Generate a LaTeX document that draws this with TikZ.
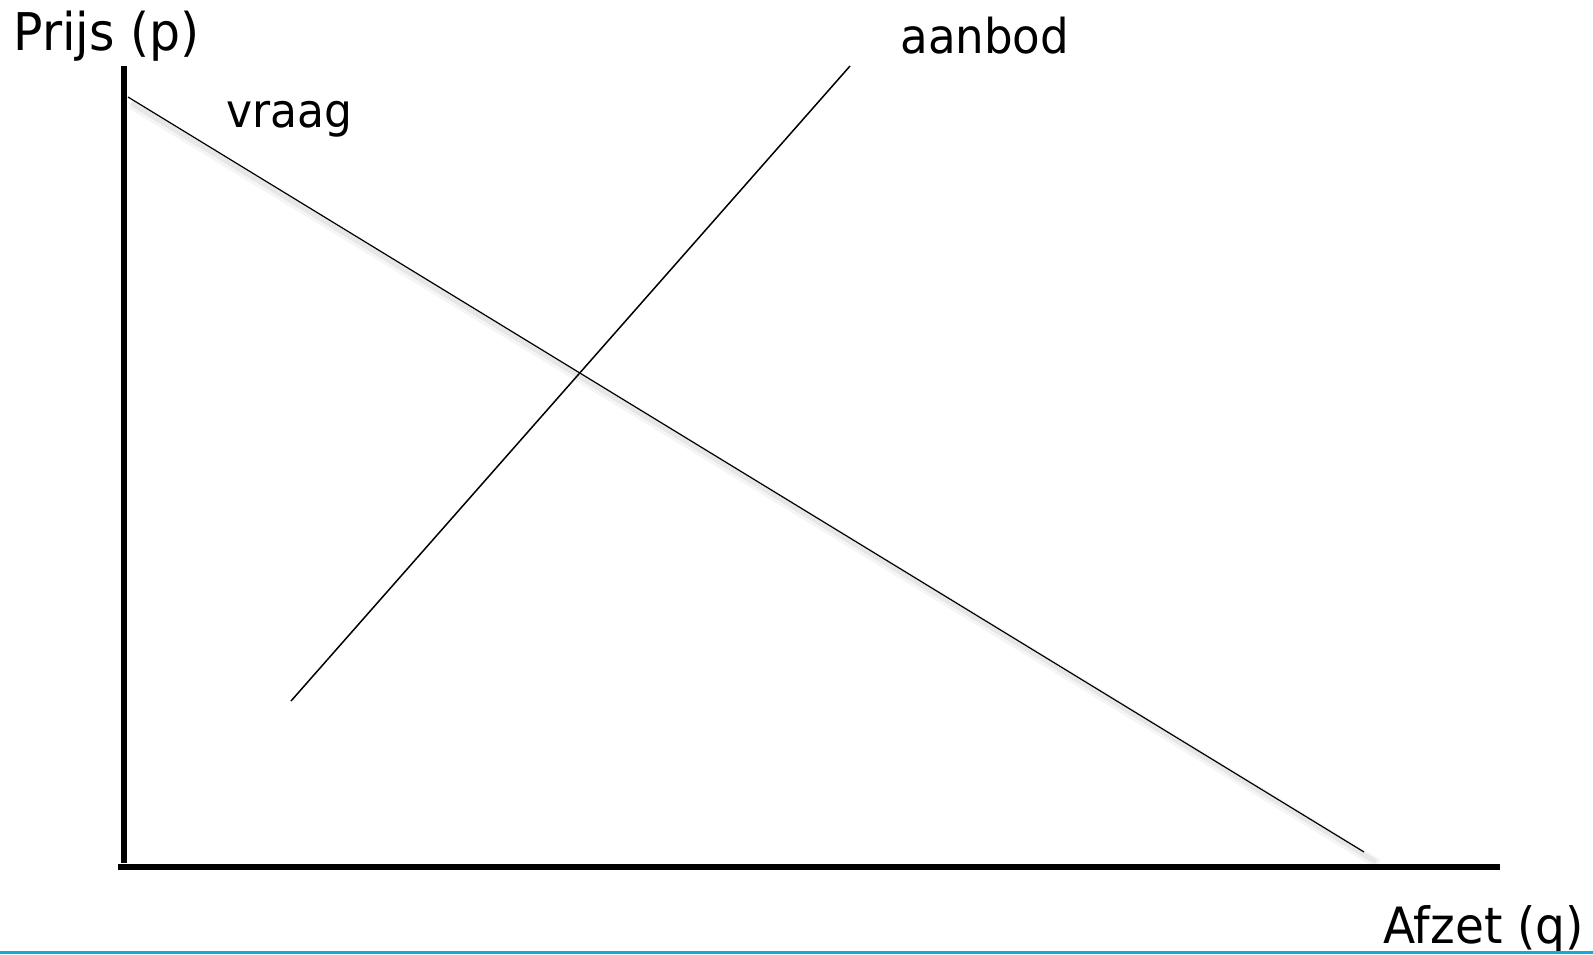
\documentclass[tikz,border=0pt]{standalone}
\usepackage{fontspec}
\setmainfont{DejaVu Sans}
\definecolor{barblue}{RGB}{20,170,220}
\begin{document}
\begin{tikzpicture}[x=0.5pt,y=-0.5pt,
  lbl/.style={anchor=base west,inner sep=0pt,text=black,xscale=0.94},
  axisline/.style={line width=3pt,line cap=butt},
  curve/.style={line width=0.6pt},
  shadowline/.style={line width=2.5pt,draw=black,opacity=0.06}]
\useasboundingbox (0,0) rectangle (1593,954);
% coordinates
\coordinate (ytop) at (124,66);
\coordinate (origin) at (124,867);
\coordinate (xend) at (1500,867);
\coordinate (d1) at (128,97);
\coordinate (d2) at (1364,852);
\coordinate (s1) at (291,701);
\coordinate (s2) at (850,66);
% shadow of demand line
\draw[shadowline] ([shift={(3,6)}]d1) -- ([shift={(12,10)}]d2);
\draw[shadowline,line width=5pt,opacity=0.04] ([shift={(3,7)}]d1) -- ([shift={(14,12)}]d2);
% axes
\draw[axisline] (ytop) -- ([yshift=2]origin) ;
\draw[axisline] ([xshift=-3]origin) -- (xend);
% curves
\draw[curve] (d1) -- (d2);
\draw[curve,line width=0.75pt] (s1) -- (s2);
% labels
\node[lbl,font=\fontsize{26pt}{30pt}\selectfont] (prijs) at (13,50) {Prijs (p)};
\node[lbl,font=\fontsize{24pt}{28pt}\selectfont] (aanbod) at (900,53) {aanbod};
\node[lbl,font=\fontsize{23.4pt}{27pt}\selectfont] (vraag) at (226,127) {vraag};
\node[lbl,font=\fontsize{25pt}{29pt}\selectfont] (afzet) at (1383,943) {Afzet (q)};
% bottom bar
\fill[barblue] (0,951) rectangle (1593,954);
\end{tikzpicture}
\end{document}
